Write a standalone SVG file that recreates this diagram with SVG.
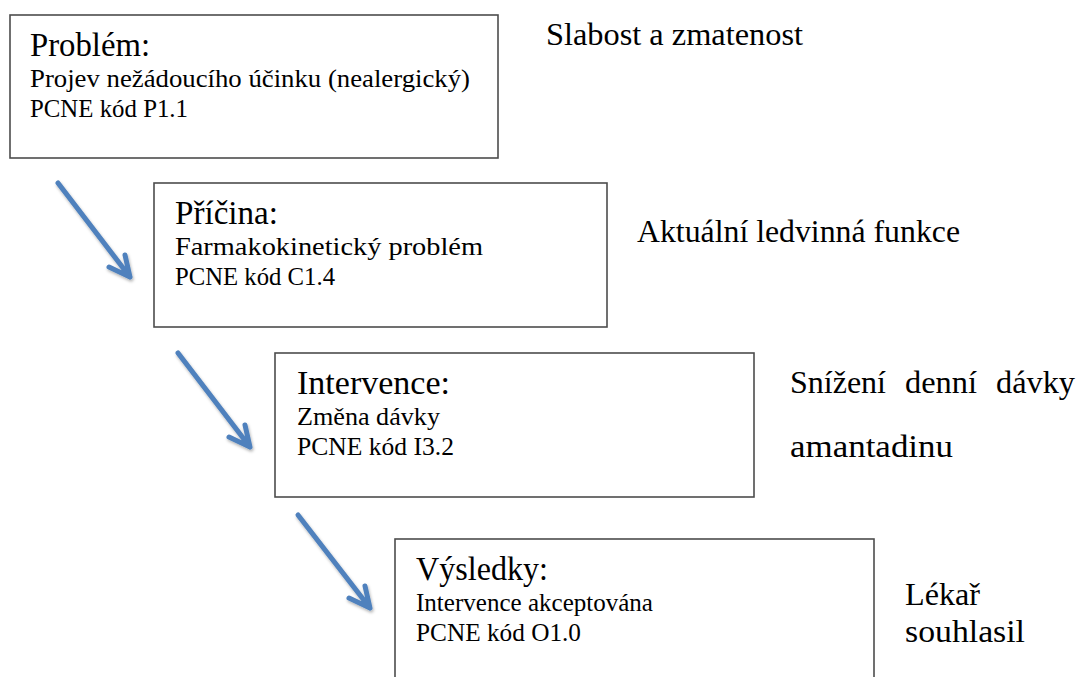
<svg xmlns="http://www.w3.org/2000/svg" width="1080" height="677" viewBox="0 0 1080 677">
<style>
  .box { fill: #ffffff; stroke: #4d4d4d; stroke-width: 1.6; }
  text { font-family: "Liberation Serif", "DejaVu Serif", serif; fill: #000000; }
  .title { font-size: 33px; }
  .body { font-size: 25px; }
  .side { font-size: 31px; }
  .arrow { fill: none; stroke: #4f81bd; stroke-width: 5; stroke-linecap: round; stroke-linejoin: round; }
</style>
<defs>
  <filter id="shadow" x="-20%" y="-20%" width="140%" height="140%">
    <feDropShadow dx="1" dy="2" stdDeviation="1.5" flood-color="#000000" flood-opacity="0.3"/>
  </filter>
</defs>
<rect width="1080" height="677" fill="#ffffff"/>

<g id="problem">
  <rect class="box" x="10" y="15" width="488" height="143"/>
  <text class="title" x="30" y="56" textLength="120" lengthAdjust="spacingAndGlyphs">Problém:</text>
  <text class="body" x="30" y="87" textLength="440" lengthAdjust="spacingAndGlyphs">Projev nežádoucího účinku (nealergický)</text>
  <text class="body" x="30" y="117" textLength="158" lengthAdjust="spacingAndGlyphs">PCNE kód P1.1</text>
</g>
<g id="problem-note">
  <text class="side" x="546" y="45" textLength="257" lengthAdjust="spacingAndGlyphs">Slabost a zmatenost</text>
</g>

<g id="pricina">
  <rect class="box" x="154" y="183" width="453" height="144"/>
  <text class="title" x="175" y="224" textLength="103" lengthAdjust="spacingAndGlyphs">Příčina:</text>
  <text class="body" x="175" y="255" textLength="308" lengthAdjust="spacingAndGlyphs">Farmakokinetický problém</text>
  <text class="body" x="175" y="285" textLength="160" lengthAdjust="spacingAndGlyphs">PCNE kód C1.4</text>
</g>
<g id="pricina-note">
  <text class="side" x="637" y="242" textLength="323" lengthAdjust="spacingAndGlyphs">Aktuální ledvinná funkce</text>
</g>

<g id="intervence">
  <rect class="box" x="275" y="353" width="479" height="144"/>
  <text class="title" x="297" y="394" textLength="153" lengthAdjust="spacingAndGlyphs">Intervence:</text>
  <text class="body" x="297" y="425" textLength="143" lengthAdjust="spacingAndGlyphs">Změna dávky</text>
  <text class="body" x="297" y="455" textLength="157" lengthAdjust="spacingAndGlyphs">PCNE kód I3.2</text>
</g>
<g id="intervence-note">
  <text class="side" x="790" y="393" textLength="96" lengthAdjust="spacingAndGlyphs">Snížení</text>
  <text class="side" x="905" y="393" textLength="72" lengthAdjust="spacingAndGlyphs">denní</text>
  <text class="side" x="996" y="393" textLength="79" lengthAdjust="spacingAndGlyphs">dávky</text>
  <text class="side" x="790" y="457" textLength="163" lengthAdjust="spacingAndGlyphs">amantadinu</text>
</g>

<g id="vysledky">
  <rect class="box" x="395" y="539" width="479" height="160"/>
  <text class="title" x="416" y="580" textLength="132" lengthAdjust="spacingAndGlyphs">Výsledky:</text>
  <text class="body" x="416" y="611" textLength="237" lengthAdjust="spacingAndGlyphs">Intervence akceptována</text>
  <text class="body" x="416" y="641" textLength="165" lengthAdjust="spacingAndGlyphs">PCNE kód O1.0</text>
</g>
<g id="vysledky-note">
  <text class="side" x="905" y="605" textLength="75" lengthAdjust="spacingAndGlyphs">Lékař</text>
  <text class="side" x="905" y="642" textLength="120" lengthAdjust="spacingAndGlyphs">souhlasil</text>
</g>

<g id="connectors" filter="url(#shadow)">
  <path class="arrow" d="M58,183 L130,277 M125,255 L130,277 L109,267"/>
  <path class="arrow" d="M178,353 L250,447 M245,425 L250,447 L229,437"/>
  <path class="arrow" d="M298,515 L370,608 M365,586 L370,608 L349,598"/>
</g>
</svg>
